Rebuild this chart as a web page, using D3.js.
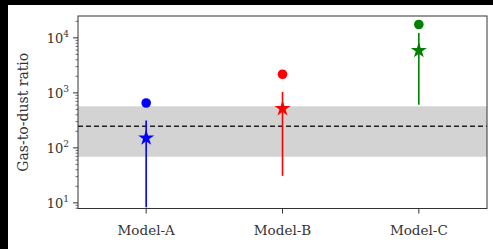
<!DOCTYPE html>
<html>
<head>
<meta charset="utf-8">
<script src="https://cdn.jsdelivr.net/npm/d3@7"></script>
<style>
  html, body { margin: 0; padding: 0; background: #000; }
  svg { display: block; position: absolute; left: 8px; top: 5px; background: #fff; }
</style>
</head>
<body>
<div id="chart"></div>
<script>
'use strict';

// data
var categories = ['Model-A', 'Model-B', 'Model-C'];
var colors = ['#0000ff', '#ff0000', '#008000'];
var circleValues = [655, 2180, 17500];
var starValues = [151, 518, 5900];
var errLow = [8.3, 31, 610];
var errHigh = [316, 1040, 12300];
var bandRange = [69, 570];
var refLine = 248;
var yTicks = [10, 100, 1000, 10000];

var W = 485, H = 244;   // white figure area (page minus black border)
var plotLeft = 70, plotRight = 479, plotTop = 11, plotBottom = 203.5;

var svg = d3.select('#chart').append('svg')
    .attr('width', W)
    .attr('height', H);

var x = d3.scaleLinear().domain([-0.5, 2.5]).range([plotLeft, plotRight]);
var y = d3.scaleLog().domain([7.9, 25000]).range([plotBottom, plotTop]);

// shaded band + reference line
svg.append('rect')
    .attr('x', plotLeft).attr('width', plotRight - plotLeft)
    .attr('y', y(bandRange[1])).attr('height', y(bandRange[0]) - y(bandRange[1]))
    .attr('fill', '#d3d3d3');
svg.append('line')
    .attr('x1', plotLeft).attr('x2', plotRight)
    .attr('y1', y(refLine)).attr('y2', y(refLine))
    .attr('stroke', '#222').attr('stroke-width', 1.5)
    .attr('stroke-dasharray', '5,3');

// error bars
svg.selectAll('.err').data(categories).enter().append('line')
    .attr('class', 'err')
    .attr('x1', function (d, i) { return x(i); })
    .attr('x2', function (d, i) { return x(i); })
    .attr('y1', function (d, i) { return y(errLow[i]); })
    .attr('y2', function (d, i) { return y(errHigh[i]); })
    .attr('stroke', function (d, i) { return colors[i]; })
    .attr('stroke-width', 1.6);

// stars
svg.selectAll('.star').data(categories).enter().append('path')
    .attr('class', 'star')
    .attr('d', d3.symbol().type(d3.symbolStar).size(80))
    .attr('transform', function (d, i) { return 'translate(' + x(i) + ',' + y(starValues[i]) + ')'; })
    .attr('fill', function (d, i) { return colors[i]; });

// circles
svg.selectAll('.dot').data(categories).enter().append('circle')
    .attr('class', 'dot')
    .attr('cx', function (d, i) { return x(i); })
    .attr('cy', function (d, i) { return y(circleValues[i]); })
    .attr('r', 4.8)
    .attr('fill', function (d, i) { return colors[i]; });

// frame
svg.append('rect')
    .attr('x', plotLeft).attr('y', plotTop)
    .attr('width', plotRight - plotLeft).attr('height', plotBottom - plotTop)
    .attr('fill', 'none').attr('stroke', '#333').attr('stroke-width', 1);

var font = '"DejaVu Serif", "Liberation Serif", serif';

// y axis ticks, major + minor
var minor = [];
for (var e = 0; e <= 4; e++) {
    for (var k = 2; k <= 9; k++) {
        var v = k * Math.pow(10, e);
        if (v > 7.9 && v < 25000) minor.push(v);
    }
}
svg.selectAll('.ymin').data(minor).enter().append('line')
    .attr('x1', plotLeft - 2.5).attr('x2', plotLeft)
    .attr('y1', function (d) { return y(d); }).attr('y2', function (d) { return y(d); })
    .attr('stroke', '#333').attr('stroke-width', 0.7);
svg.selectAll('.ymaj').data(yTicks).enter().append('line')
    .attr('x1', plotLeft - 5).attr('x2', plotLeft)
    .attr('y1', function (d) { return y(d); }).attr('y2', function (d) { return y(d); })
    .attr('stroke', '#333').attr('stroke-width', 1);
var yl = svg.selectAll('.ylab').data(yTicks).enter().append('text')
    .attr('x', plotLeft - 9)
    .attr('y', function (d) { return y(d) + 5; })
    .attr('text-anchor', 'end')
    .attr('font-family', font).attr('font-size', 13).attr('fill', '#333');
yl.append('tspan').text('10');
yl.append('tspan').attr('dy', -6).attr('font-size', 9)
    .text(function (d) { return Math.round(Math.log10(d)); });

svg.append('text')
    .attr('transform', 'translate(20,' + ((plotTop + plotBottom) / 2) + ') rotate(-90)')
    .attr('text-anchor', 'middle')
    .attr('font-family', font).attr('font-size', 14).attr('fill', '#333')
    .text('Gas-to-dust ratio');

// x axis
svg.selectAll('.xt').data(categories).enter().append('line')
    .attr('x1', function (d, i) { return x(i); }).attr('x2', function (d, i) { return x(i); })
    .attr('y1', plotBottom).attr('y2', plotBottom + 5)
    .attr('stroke', '#333');
svg.selectAll('.xlab').data(categories).enter().append('text')
    .attr('x', function (d, i) { return x(i); })
    .attr('y', plotBottom + 26)
    .attr('text-anchor', 'middle')
    .attr('font-family', font).attr('font-size', 13.5).attr('fill', '#333')
    .text(function (d) { return d; });
</script>
</body>
</html>
